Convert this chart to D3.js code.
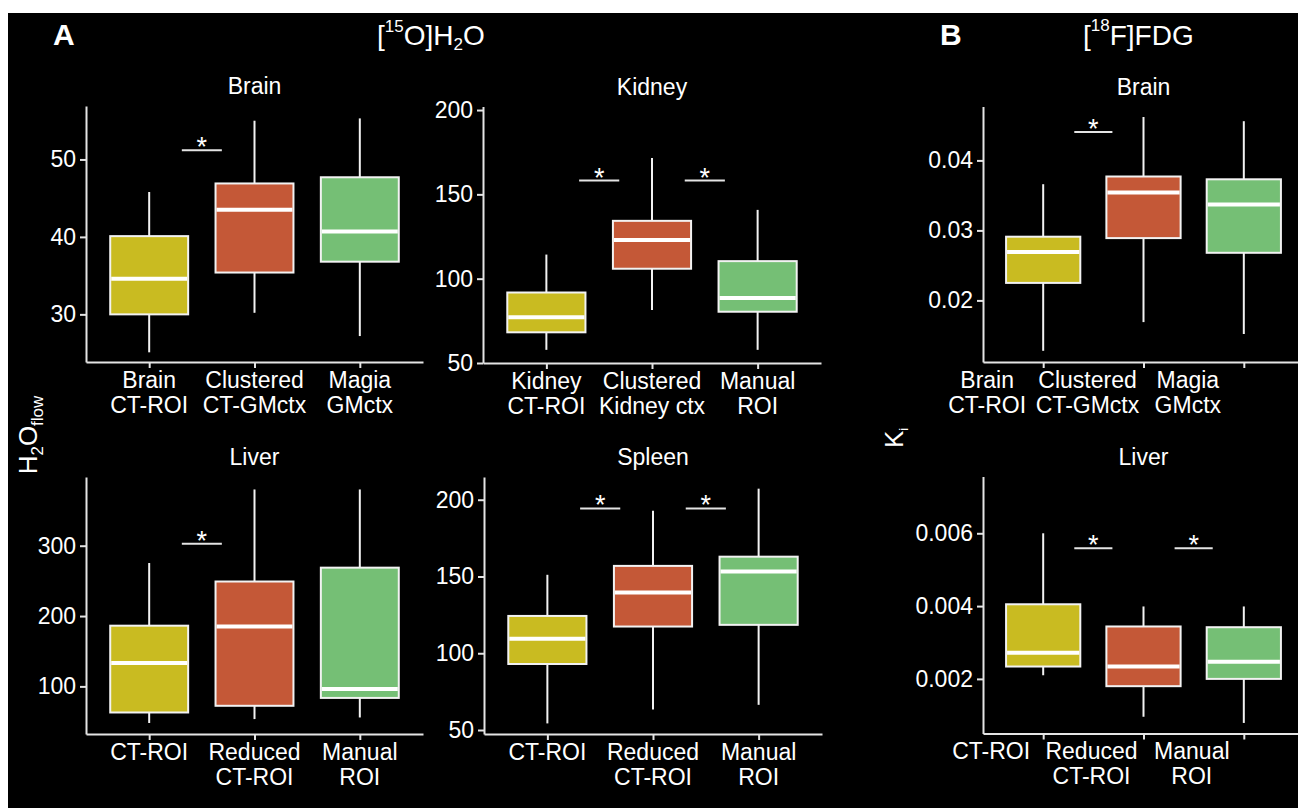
<!DOCTYPE html>
<html>
<head>
<meta charset="utf-8">
<title>H2O flow and Ki by ROI</title>
<script src="https://cdn.jsdelivr.net/npm/d3@7"></script>
<style>
body{margin:0; background:#fff;}
svg text{font-family:"Liberation Sans", Arial, sans-serif; fill:#fff;}
.axis path, .axis line{stroke:#e4e4e4; stroke-width:2px;}
.axis text{font-size:23px; fill:#fff;}
</style>
</head>
<body>
<svg id="fig" width="1298" height="808"></svg>
<script>
//group labels (two lines split on \n)
var brainLabels = ['Brain\nCT-ROI', 'Clustered\nCT-GMctx', 'Magia\nGMctx'];
var kidneyLabels = ['Kidney\nCT-ROI', 'Clustered\nKidney ctx', 'Manual\nROI'];
var organLabels = ['CT-ROI', 'Reduced\nCT-ROI', 'Manual\nROI'];

//box stats per group: [lower whisker, Q1, median, Q3, upper whisker]
var brainFlow  = [[25.1, 30.0, 34.6, 40.1, 45.8], [30.2, 35.4, 43.5, 46.9, 55.0], [27.2, 36.8, 40.7, 47.7, 55.3]];
var kidneyFlow = [[57.8, 68.2, 77.1, 91.8, 114.3], [81.4, 105.9, 122.9, 134.3, 171.6], [57.8, 80.4, 88.6, 110.4, 140.8]];
var liverFlow  = [[47.9, 62.9, 133.2, 186.3, 275.4], [53.5, 72.4, 185.1, 249.1, 380], [55.8, 83.6, 96.3, 268.8, 380]];
var spleenFlow = [[54.3, 93.0, 109.5, 124.3, 151.1], [63.3, 117.4, 139.5, 156.9, 192.8], [66.4, 118.5, 153.3, 162.9, 207.2]];
var brainKi    = [[0.0128, 0.0225, 0.0269, 0.0291, 0.0366], [0.0169, 0.0289, 0.0354, 0.0377, 0.0462], [0.0152, 0.0268, 0.0337, 0.0373, 0.0456]];
var liverKi    = [[0.0021, 0.00234, 0.00272, 0.00405, 0.0060], [0.00096, 0.0018, 0.00234, 0.00344, 0.00399], [0.00079, 0.0020, 0.00247, 0.00342, 0.00399]];

//significance bars: [from group, to group, height]
var brainFlowSig  = [[0, 1, 51.2]];
var kidneyFlowSig = [[0, 1, 158.2], [1, 2, 158.2]];
var liverFlowSig  = [[0, 1, 302.8]];
var spleenFlowSig = [[0, 1, 194.3], [1, 2, 194.3]];
var brainKiSig    = [[0, 1, 0.04406]];
var liverKiSig    = [[0, 1, 0.00559], [1, 2, 0.00559]];

//y tick values
var brainFlowTicks  = [30, 40, 50];
var kidneyFlowTicks = [50, 100, 150, 200];
var liverFlowTicks  = [100, 200, 300];
var spleenFlowTicks = [50, 100, 150, 200];
var brainKiTicks    = [0.02, 0.03, 0.04];
var liverKiTicks    = [0.002, 0.004, 0.006];

var colors = ['#c9bb21', '#c45837', '#75bf75'];

var svg = d3.select('#fig');

//white border strips, black figure background
svg.append('rect').attr('width', 1298).attr('height', 808).attr('fill', '#fff');
svg.append('rect').attr('x', 8).attr('y', 13).attr('width', 1290).attr('height', 795).attr('fill', '#000');

var panels = [
  {title: 'Brain',  labels: brainLabels,  stats: brainFlow,  sig: brainFlowSig,  ticks: brainFlowTicks,  fmt: d3.format('d'),
   x0: 86,  x1: 423,  y0: 362,   y1: 106,   dom: [23.85, 56.9],   shift: 0},
  {title: 'Kidney', labels: kidneyLabels, stats: kidneyFlow, sig: kidneyFlowSig, ticks: kidneyFlowTicks, fmt: d3.format('d'),
   x0: 483, x1: 821,  y0: 363,   y1: 106.5, dom: [50, 202.1],     shift: 0},
  {title: 'Liver',  labels: organLabels,  stats: liverFlow,  sig: liverFlowSig,  ticks: liverFlowTicks,  fmt: d3.format('d'),
   x0: 86,  x1: 423,  y0: 734,   y1: 477,   dom: [32.3, 397.7],   shift: 0},
  {title: 'Spleen', labels: organLabels,  stats: spleenFlow, sig: spleenFlowSig, ticks: spleenFlowTicks, fmt: d3.format('d'),
   x0: 484, x1: 822,  y0: 734,   y1: 477,   dom: [47.4, 214.8],   shift: 0},
  {title: 'Brain',  labels: brainLabels,  stats: brainKi,    sig: brainKiSig,    ticks: brainKiTicks,    fmt: d3.format('.2f'),
   x0: 983, x1: 1304, y0: 362,   y1: 106.5, dom: [0.0112, 0.0477], shift: -56},
  {title: 'Liver',  labels: organLabels,  stats: liverKi,    sig: liverKiSig,    ticks: liverKiTicks,    fmt: d3.format('.3f'),
   x0: 983, x1: 1304, y0: 733.5, y1: 476.5, dom: [0.0005, 0.00756], shift: -52}
];

panels.forEach(drawPanel);

function drawPanel(p){
  //group index 0..2, ggplot-like 0.6 expansion on both sides
  var x = d3.scaleLinear().domain([-0.6, 2.6]).range([p.x0, p.x1]);
  var y = d3.scaleLinear().domain(p.dom).range([p.y0, p.y1]);
  var g = svg.append('g');
  var half = 0.37;

  //whiskers
  p.stats.forEach(function(d, i){
    g.append('line').attr('x1', x(i)).attr('x2', x(i)).attr('y1', y(d[4])).attr('y2', y(d[0]))
      .attr('stroke', '#f2f2f2').attr('stroke-width', 2);
  });

  //boxes
  g.selectAll('rect.box').data(p.stats).enter().append('rect')
      .attr('class', 'box')
      .attr('x', (d, i) => x(i - half))
      .attr('width', x(half) - x(-half))
      .attr('y', d => y(d[3]))
      .attr('height', d => y(d[1]) - y(d[3]))
      .attr('fill', (d, i) => colors[i])
      .attr('stroke', '#f2f2f2')
      .attr('stroke-width', 2);

  //medians
  g.selectAll('line.med').data(p.stats).enter().append('line')
      .attr('class', 'med')
      .attr('x1', (d, i) => x(i - half) + 1)
      .attr('x2', (d, i) => x(i + half) - 1)
      .attr('y1', d => y(d[2]))
      .attr('y2', d => y(d[2]))
      .attr('stroke', '#fff')
      .attr('stroke-width', 4);

  //significance bars + stars
  p.sig.forEach(function(s){
    var mid = (s[0] + s[1]) / 2;
    g.append('line').attr('x1', x(mid - 0.19)).attr('x2', x(mid + 0.19))
      .attr('y1', y(s[2])).attr('y2', y(s[2]))
      .attr('stroke', '#e4e4e4').attr('stroke-width', 2);
    g.append('text').attr('x', x(mid)).attr('y', y(s[2]) + 6)
      .attr('text-anchor', 'middle').style('font-size', '27px').text('*');
  });

  //axes
  g.append('g').attr('class', 'axis')
      .attr('transform', 'translate(' + p.x0 + ',0)')
      .call(d3.axisLeft(y).tickValues(p.ticks).tickFormat(p.fmt).tickSize(6).tickSizeOuter(0).tickPadding(4));

  g.append('g').attr('class', 'axis')
      .attr('transform', 'translate(0,' + p.y0 + ')')
      .call(d3.axisBottom(x).tickValues([0, 1, 2]).tickFormat('').tickSize(6).tickSizeOuter(0));

  //multi-line group labels
  p.labels.forEach(function(lab, i){
    var t = g.append('text').attr('text-anchor', 'middle').style('font-size', '23px')
        .attr('x', x(i) + p.shift).attr('y', p.y0 + 25.5);
    lab.split('\n').forEach(function(line, k){
      t.append('tspan').attr('x', x(i) + p.shift).attr('dy', k ? 25 : 0).text(line);
    });
  });

  //panel title
  g.append('text').attr('text-anchor', 'middle').style('font-size', '23px')
      .attr('x', (p.x0 + p.x1) / 2).attr('y', p.y1 - 12).text(p.title);
}

//figure letters and tracer titles
svg.append('text').attr('x', 53).attr('y', 45).style('font-size', '30px').style('font-weight', 'bold').text('A');
svg.append('text').attr('x', 940).attr('y', 45).style('font-size', '30px').style('font-weight', 'bold').text('B');

var tA = svg.append('text').attr('x', 377).attr('y', 45).style('font-size', '28px');
tA.append('tspan').text('[');
tA.append('tspan').attr('dy', -13).style('font-size', '17px').text('15');
tA.append('tspan').attr('dy', 13).text('O]H');
tA.append('tspan').attr('dy', 5).style('font-size', '17px').text('2');
tA.append('tspan').attr('dy', -5).text('O');

var tB = svg.append('text').attr('x', 1083).attr('y', 45).style('font-size', '28px');
tB.append('tspan').text('[');
tB.append('tspan').attr('dy', -14).style('font-size', '17px').text('18');
tB.append('tspan').attr('dy', 14).text('F]FDG');

//y axis titles
var yA = svg.append('text').attr('transform', 'translate(37,435) rotate(-90)')
    .attr('text-anchor', 'middle').style('font-size', '26px');
yA.append('tspan').text('H');
yA.append('tspan').attr('dy', 6).style('font-size', '17px').text('2');
yA.append('tspan').attr('dy', -6).text('O');
yA.append('tspan').attr('dy', 6).style('font-size', '17px').text('flow');

var yB = svg.append('text').attr('transform', 'translate(903,438) rotate(-90)')
    .attr('text-anchor', 'middle').style('font-size', '26px');
yB.append('tspan').text('K');
yB.append('tspan').attr('dy', 5).style('font-size', '13px').text('i');
</script>
</body>
</html>
